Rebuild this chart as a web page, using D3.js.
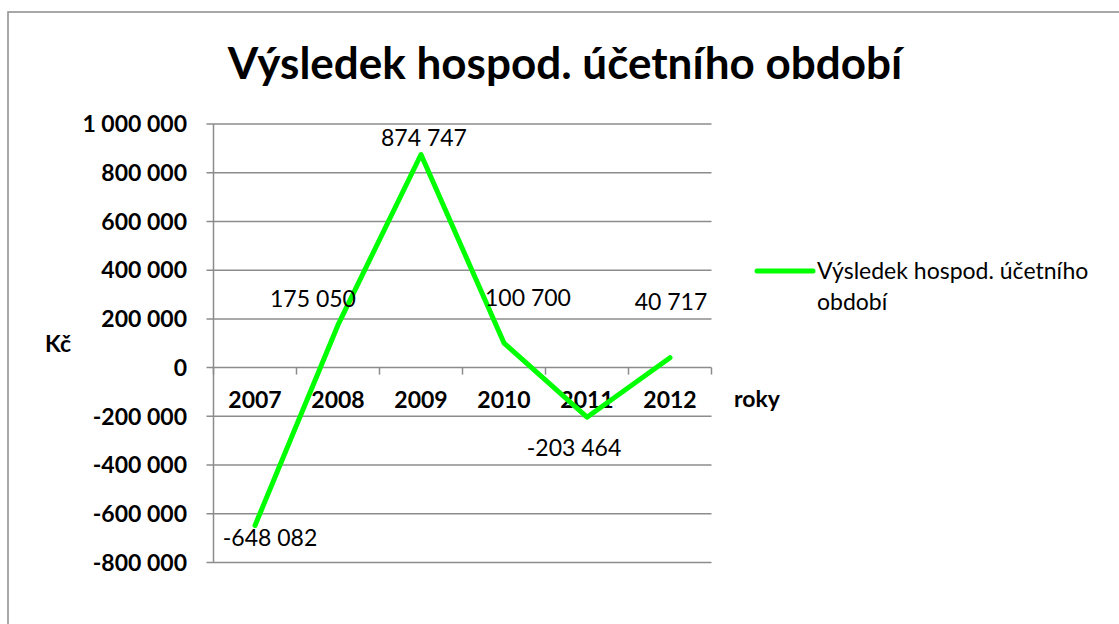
<!DOCTYPE html>
<html lang="cs">
<head>
    <meta charset="UTF-8">
    <title>Výsledek hospod. účetního období</title>
    <script src="https://d3js.org/d3.v7.min.js"></script>
    <style>
        body { margin: 0; background: #fff; }
        svg { display: block; font-family: Lato, "Noto Sans", sans-serif; }
    </style>
</head>
<body>
<svg width="1119" height="624"></svg>

<script>
    // data
    const years = ["2007", "2008", "2009", "2010", "2011", "2012"];
    const values = [-648082, 175050, 874747, 100700, -203464, 40717];
    const yTickValues = [-800000, -600000, -400000, -200000, 0, 200000, 400000, 600000, 800000, 1000000];
    const seriesName = "Výsledek hospod. účetního období";
    const titleText = "Výsledek hospod. účetního období";

    // label nudges (layout only), px from the point
    const labelOffsets = [[15, 21], [-25, -18], [3, -9], [24, -37], [-13, 39], [1, -48]];

    const svg = d3.select("svg");
    const lineColor = "#00ff00";
    const gridColor = "#8c8c8c";

    // chart area border (runs off the right and bottom edge)
    svg.append("rect")
        .attr("x", 8).attr("y", 12)
        .attr("width", 1200).attr("height", 700)
        .attr("fill", "none")
        .attr("stroke", gridColor)
        .attr("stroke-width", 1.5);

    const plotLeft = 213.5, plotRight = 711.5, plotTop = 124, plotBottom = 562.5;

    const x = d3.scaleBand().domain(years).range([plotLeft, plotRight]);
    const y = d3.scaleLinear().domain([-800000, 1000000]).range([plotBottom, plotTop]);

    const fmt = v => d3.format(",")(v).replace(/,/g, " ").replace("−", "-");

    // gridlines + y ticks
    svg.append("g")
        .selectAll("line")
        .data(yTickValues)
        .join("line")
        .attr("x1", plotLeft - 7).attr("x2", plotRight)
        .attr("y1", d => y(d)).attr("y2", d => y(d))
        .attr("stroke", gridColor)
        .attr("stroke-width", 1.5);

    // y axis line
    svg.append("line")
        .attr("x1", plotLeft).attr("x2", plotLeft)
        .attr("y1", plotTop).attr("y2", plotBottom)
        .attr("stroke", gridColor)
        .attr("stroke-width", 1.5);

    // y tick labels
    svg.append("g")
        .selectAll("text")
        .data(yTickValues)
        .join("text")
        .attr("x", 187)
        .attr("y", d => y(d))
        .attr("dy", "0.36em")
        .attr("text-anchor", "end")
        .attr("font-size", 23)
        .attr("font-weight", "bold")
        .text(d => fmt(d));

    // category tick marks on the zero line
    const boundaries = years.map(d => x(d)).concat([plotRight]);
    svg.append("g")
        .selectAll("line")
        .data(boundaries)
        .join("line")
        .attr("x1", d => d).attr("x2", d => d)
        .attr("y1", y(0)).attr("y2", y(0) + 7)
        .attr("stroke", gridColor)
        .attr("stroke-width", 1.5);

    // category labels
    svg.append("g")
        .selectAll("text")
        .data(years)
        .join("text")
        .attr("x", d => x(d) + x.bandwidth() / 2)
        .attr("y", 408)
        .attr("text-anchor", "middle")
        .attr("font-size", 23)
        .attr("font-weight", "bold")
        .text(d => d);

    // series line
    const line = d3.line()
        .x((d, i) => x(years[i]) + x.bandwidth() / 2)
        .y(d => y(d));

    svg.append("path")
        .datum(values)
        .attr("d", line)
        .attr("fill", "none")
        .attr("stroke", lineColor)
        .attr("stroke-width", 5)
        .attr("stroke-linecap", "round")
        .attr("stroke-linejoin", "round");

    // data labels
    svg.append("g")
        .selectAll("text")
        .data(values)
        .join("text")
        .attr("x", (d, i) => x(years[i]) + x.bandwidth() / 2 + labelOffsets[i][0])
        .attr("y", (d, i) => y(d) + labelOffsets[i][1])
        .attr("text-anchor", "middle")
        .attr("font-size", 23)
        .text(d => fmt(d));

    // title
    svg.append("text")
        .attr("x", 565)
        .attr("y", 79)
        .attr("text-anchor", "middle")
        .attr("font-size", 44)
        .attr("font-weight", "bold")
        .text(titleText);

    // axis titles
    svg.append("text")
        .attr("x", 45).attr("y", 352)
        .attr("font-size", 23)
        .attr("font-weight", "bold")
        .text("Kč");

    svg.append("text")
        .attr("x", 734).attr("y", 407)
        .attr("font-size", 23)
        .attr("font-weight", "bold")
        .text("roky");

    // legend
    const legend = svg.append("g");
    legend.append("line")
        .attr("x1", 757).attr("x2", 813)
        .attr("y1", 271).attr("y2", 271)
        .attr("stroke", lineColor)
        .attr("stroke-width", 5)
        .attr("stroke-linecap", "round");

    const words = seriesName.split(" ");
    const legendLines = [words.slice(0, 3).join(" "), words.slice(3).join(" ")];
    legend.selectAll("text")
        .data(legendLines)
        .join("text")
        .attr("x", 817)
        .attr("y", (d, i) => 279 + i * 31)
        .attr("font-size", 23)
        .text(d => d);
</script>
</body>
</html>
